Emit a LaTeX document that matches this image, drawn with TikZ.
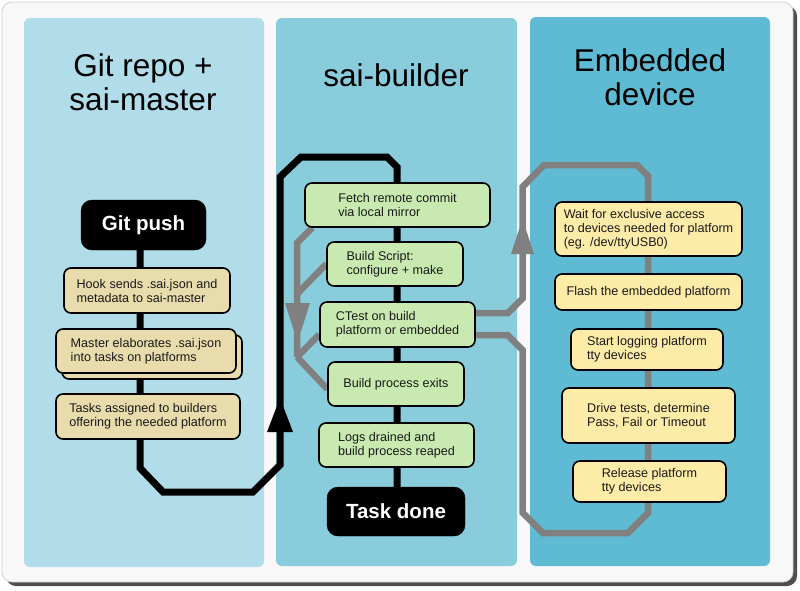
\documentclass[tikz,border=0pt]{standalone}
\usepackage{fontspec}
\setmainfont{Liberation Sans}
\usetikzlibrary{shadows,calc}
\definecolor{framebg}{HTML}{F8F8F8}
\definecolor{framedraw}{HTML}{CFCFCF}
\definecolor{frameshadow}{HTML}{4E4E4E}
\definecolor{panelA}{HTML}{B0DDE9}
\definecolor{panelB}{HTML}{89CDDC}
\definecolor{panelC}{HTML}{5FBAD3}
\definecolor{beige}{HTML}{E8DCAC}
\definecolor{lgreen}{HTML}{C8E9B0}
\definecolor{lyellow}{HTML}{FDEBA8}
\definecolor{greycol}{HTML}{808080}
\definecolor{txt}{HTML}{1A1A1A}
\pgfdeclarelayer{panels}
\pgfdeclarelayer{lines}
\pgfsetlayers{panels,lines,main}
\tikzset{
  box/.style={draw=black, line width=1.6pt, rounded corners=7pt, align=left,
    text=txt, font=\fontsize{12.6}{14}\selectfont, inner sep=0pt},
  leftbox/.style={box, fill=beige},
  midbox/.style={box, fill=lgreen},
  rightbox/.style={box, fill=lyellow},
  termbox/.style={fill=black, draw=black, rounded corners=11pt, text=white,
    font=\fontsize{20.5}{24}\selectfont\bfseries, inner sep=0pt},
  titletext/.style={align=center, text=black, font=\fontsize{31.5}{34}\selectfont},
  blackline/.style={draw=black, line width=7pt, line join=miter},
  greyline/.style={draw=greycol, line width=6.5pt, line join=miter},
}
\begin{document}
\begin{tikzpicture}[x=1pt,y=-1pt]
\useasboundingbox (0,0) rectangle (800,590);

% titles
\node[titletext] (t1) at (143,82) {Git repo +\\sai-master};
\node[titletext] (t2) at (396,75) {sai-builder};
\node[titletext] (t3) at (650,77) {Embedded\\device};

% left column
\node[termbox, minimum width=125, minimum height=50] (gitpush) at (143.5,225) {Git push};
\node[leftbox, minimum width=166, minimum height=45] (hook) at (147,290.5) {Hook sends .sai.json and\\metadata to sai-master};
\node[leftbox, minimum width=180, minimum height=44, copy shadow={shadow xshift=6pt, shadow yshift=-6pt}] (master) at (146,351) {Master elaborates .sai.json\\into tasks on platforms};
\node[leftbox, minimum width=184, minimum height=45] (tasks) at (148,416.5) {Tasks assigned to builders\\offering the needed platform};

% middle column
\node[midbox, minimum width=185, minimum height=44] (fetch) at (397.5,205) {Fetch remote commit\\via local mirror};
\node[midbox, minimum width=136, minimum height=44] (build) at (395,264) {Build Script:\\configure + make};
\node[midbox, minimum width=155, minimum height=45] (ctest) at (397.5,324.5) {CTest on build\\platform or embedded};
\node[midbox, minimum width=136, minimum height=44] (exits) at (396,384) {Build process exits};
\node[midbox, minimum width=155, minimum height=44] (logs) at (396.5,445) {Logs drained and\\build process reaped};
\node[termbox, minimum width=138, minimum height=49] (done) at (396,511.5) {Task done};

% right column
\node[rightbox, minimum width=187, minimum height=54] (wait) at (648.5,229) {Wait for exclusive access\\to devices needed for platform\\(eg. /dev/ttyUSB0)};
\node[rightbox, minimum width=187, minimum height=36] (flash) at (648.5,292) {Flash the embedded platform};
\node[rightbox, minimum width=152, minimum height=41] (start) at (647,349.5) {Start logging platform\\tty devices};
\node[rightbox, minimum width=173, minimum height=55] (drive) at (648.5,415.5) {Drive tests, determine\\Pass, Fail or Timeout};
\node[rightbox, minimum width=153, minimum height=41] (release) at (649.5,481.5) {Release platform\\tty devices};

\begin{pgfonlayer}{panels}
  \fill[frameshadow, rounded corners=10pt] (6,6) rectangle (797,586);
  \fill[framebg, draw=framedraw, line width=0.8pt, rounded corners=10pt] (2,2) rectangle (793,582);
  \fill[panelA, rounded corners=6pt] (24,18) rectangle (264,567);
  \fill[panelB, rounded corners=6pt] (276,18) rectangle (517,566);
  \fill[panelC, rounded corners=6pt] (530,17) rectangle (770,566);
\end{pgfonlayer}

\begin{pgfonlayer}{lines}
  \coordinate (lx) at (140,0);
  \coordinate (mx) at (397,0);
  \coordinate (gj) at (297,357);
  % black main flow
  \draw[blackline] (gitpush.south -| lx) -- (140,468) -- (163,492) -- (253,492)
    -- (280,465) -- (280,177) -- (301,157) -- (387,157) -- (397,167) -- (done.north -| mx);
  \fill[black] (267,432) -- (293,432) -- (280,398) -- cycle;
  % grey returns on the left
  \draw[greyline] ($(fetch.south west)+(8,0)$) -- (297,243) -- (gj);
  \draw[greyline] (build.west) -- (297,294);
  \draw[greyline] ($(ctest.west)+(0,10)$) -- (gj);
  \draw[greyline] (gj) -- ($(exits.west)+(0,5)$);
  \fill[greycol] (285,303) -- (310,303) -- (297.5,342) -- cycle;
  % grey loop to embedded device
  \draw[greyline] ($(ctest.east)+(0,-11.5)$) -- (508,313) -- (522.5,298.5) -- (522.5,187)
    -- (544,165) -- (637,165) -- (648,176) -- (648,513) -- (628,533) -- (543,533)
    -- (522.5,512.5) -- (522.5,350) -- (507.5,335) -- ($(ctest.east)+(0,10.5)$);
  \fill[greycol] (511,254) -- (534,254) -- (522.5,219) -- cycle;
\end{pgfonlayer}
\end{tikzpicture}
\end{document}
